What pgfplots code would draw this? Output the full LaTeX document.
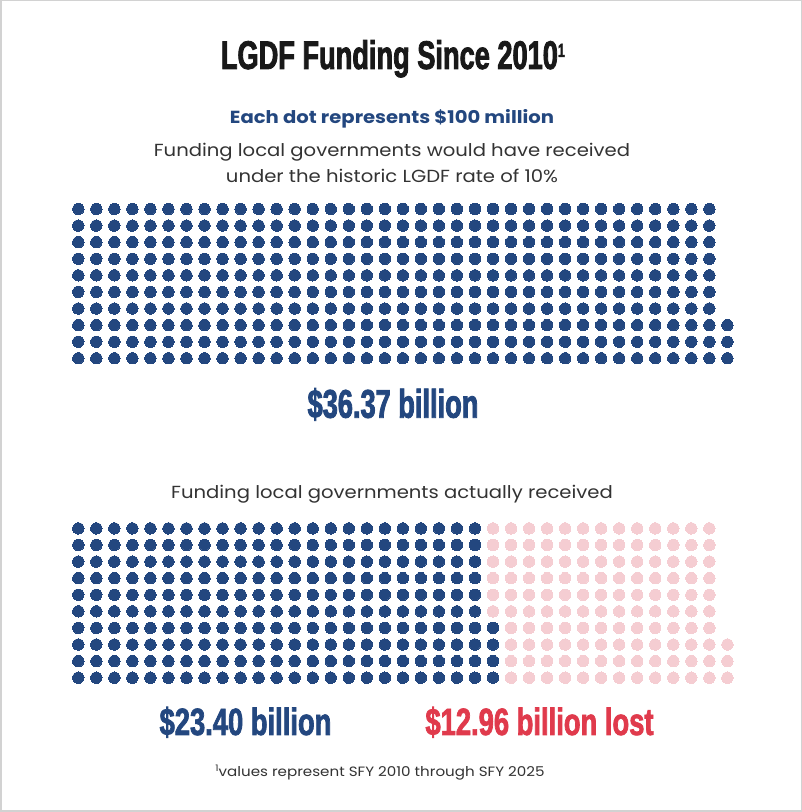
\documentclass[border=0pt]{standalone}
\usepackage{pgfplots}
\pgfplotsset{compat=1.18}
\usepackage{fontspec}
\setmainfont{Poppins}[FakeStretch=1.12]
\newfontfamily\heavy[FakeStretch=0.68,FakeBold=2]{Liberation Sans}
\newfontfamily\heavyb[FakeStretch=0.72,FakeBold=1.8]{Liberation Sans}
\definecolor{navy}{HTML}{23477F}
\definecolor{pinkdot}{HTML}{F5CDD2}
\definecolor{lostred}{HTML}{E03A4C}
\definecolor{bodygray}{HTML}{333333}
\definecolor{framegray}{HTML}{D2D2D2}
\pgfplotsset{dotgrid/.style={hide axis, scale only axis, clip=false,
  width=649.1pt, height=149.3pt, xmin=0, xmax=36, ymin=0, ymax=9, anchor=south west}}
\begin{document}
\begin{tikzpicture}
\draw[framegray, line width=1.5pt, fill=white] (0.75pt,0.75pt) rectangle (801.25pt,811.25pt);
\path[use as bounding box] (0pt,0pt) rectangle (802pt,812pt);
% Title
\node[anchor=base, inner sep=0pt, text=black!90] at (393pt,743pt)
  {\heavy\bfseries\fontsize{40}{40}\selectfont LGDF Funding Since 2010\raisebox{12pt}{\fontsize{19}{19}\selectfont 1}};
\node[anchor=base, inner sep=0pt, text=navy] at (392pt,688.7pt)
  {\bfseries\fontsize{17.5}{17.5}\selectfont Each dot represents \$100 million};
\node[anchor=base, inner sep=0pt, text=bodygray] at (392pt,655.3pt)
  {\fontsize{17.5}{17.5}\selectfont Funding local governments would have received};
\node[anchor=base, inner sep=0pt, text=bodygray] at (392pt,629.3pt)
  {\fontsize{17.5}{17.5}\selectfont under the historic LGDF rate of 10\%};
\node[anchor=base, inner sep=0pt, text=navy] at (393pt,394.3pt)
  {\heavy\bfseries\fontsize{40}{40}\selectfont \$36.37 billion};
\node[anchor=base, inner sep=0pt, text=bodygray] at (392pt,313pt)
  {\fontsize{17.5}{17.5}\selectfont Funding local governments actually received};
\node[anchor=base, inner sep=0pt, text=navy] at (245.5pt,77pt)
  {\heavyb\bfseries\fontsize{38}{38}\selectfont \$23.40 billion};
\node[anchor=base, inner sep=0pt, text=lostred] at (539.5pt,77pt)
  {\heavyb\bfseries\fontsize{38}{38}\selectfont \$12.96 billion lost};
\node[anchor=base, inner sep=0pt, text=bodygray] at (380pt,35pt)
  {\fontsize{13.5}{13.5}\selectfont \raisebox{5pt}{\fontsize{9}{9}\selectfont 1}values represent SFY 2010 through SFY 2025};
% Top grid: would have received (363 dots)
\begin{axis}[dotgrid, at={(78.3pt,453.7pt)}]
\addplot[only marks, mark=*, mark size=5.7pt, mark options={fill=navy, draw=navy, line width=0pt}] coordinates {
(0,0)(0,1)(0,2)(0,3)(0,4)(0,5)(0,6)(0,7)(0,8)(0,9)
(1,0)(1,1)(1,2)(1,3)(1,4)(1,5)(1,6)(1,7)(1,8)(1,9)
(2,0)(2,1)(2,2)(2,3)(2,4)(2,5)(2,6)(2,7)(2,8)(2,9)
(3,0)(3,1)(3,2)(3,3)(3,4)(3,5)(3,6)(3,7)(3,8)(3,9)
(4,0)(4,1)(4,2)(4,3)(4,4)(4,5)(4,6)(4,7)(4,8)(4,9)
(5,0)(5,1)(5,2)(5,3)(5,4)(5,5)(5,6)(5,7)(5,8)(5,9)
(6,0)(6,1)(6,2)(6,3)(6,4)(6,5)(6,6)(6,7)(6,8)(6,9)
(7,0)(7,1)(7,2)(7,3)(7,4)(7,5)(7,6)(7,7)(7,8)(7,9)
(8,0)(8,1)(8,2)(8,3)(8,4)(8,5)(8,6)(8,7)(8,8)(8,9)
(9,0)(9,1)(9,2)(9,3)(9,4)(9,5)(9,6)(9,7)(9,8)(9,9)
(10,0)(10,1)(10,2)(10,3)(10,4)(10,5)(10,6)(10,7)(10,8)(10,9)
(11,0)(11,1)(11,2)(11,3)(11,4)(11,5)(11,6)(11,7)(11,8)(11,9)
(12,0)(12,1)(12,2)(12,3)(12,4)(12,5)(12,6)(12,7)(12,8)(12,9)
(13,0)(13,1)(13,2)(13,3)(13,4)(13,5)(13,6)(13,7)(13,8)(13,9)
(14,0)(14,1)(14,2)(14,3)(14,4)(14,5)(14,6)(14,7)(14,8)(14,9)
(15,0)(15,1)(15,2)(15,3)(15,4)(15,5)(15,6)(15,7)(15,8)(15,9)
(16,0)(16,1)(16,2)(16,3)(16,4)(16,5)(16,6)(16,7)(16,8)(16,9)
(17,0)(17,1)(17,2)(17,3)(17,4)(17,5)(17,6)(17,7)(17,8)(17,9)
(18,0)(18,1)(18,2)(18,3)(18,4)(18,5)(18,6)(18,7)(18,8)(18,9)
(19,0)(19,1)(19,2)(19,3)(19,4)(19,5)(19,6)(19,7)(19,8)(19,9)
(20,0)(20,1)(20,2)(20,3)(20,4)(20,5)(20,6)(20,7)(20,8)(20,9)
(21,0)(21,1)(21,2)(21,3)(21,4)(21,5)(21,6)(21,7)(21,8)(21,9)
(22,0)(22,1)(22,2)(22,3)(22,4)(22,5)(22,6)(22,7)(22,8)(22,9)
(23,0)(23,1)(23,2)(23,3)(23,4)(23,5)(23,6)(23,7)(23,8)(23,9)
(24,0)(24,1)(24,2)(24,3)(24,4)(24,5)(24,6)(24,7)(24,8)(24,9)
(25,0)(25,1)(25,2)(25,3)(25,4)(25,5)(25,6)(25,7)(25,8)(25,9)
(26,0)(26,1)(26,2)(26,3)(26,4)(26,5)(26,6)(26,7)(26,8)(26,9)
(27,0)(27,1)(27,2)(27,3)(27,4)(27,5)(27,6)(27,7)(27,8)(27,9)
(28,0)(28,1)(28,2)(28,3)(28,4)(28,5)(28,6)(28,7)(28,8)(28,9)
(29,0)(29,1)(29,2)(29,3)(29,4)(29,5)(29,6)(29,7)(29,8)(29,9)
(30,0)(30,1)(30,2)(30,3)(30,4)(30,5)(30,6)(30,7)(30,8)(30,9)
(31,0)(31,1)(31,2)(31,3)(31,4)(31,5)(31,6)(31,7)(31,8)(31,9)
(32,0)(32,1)(32,2)(32,3)(32,4)(32,5)(32,6)(32,7)(32,8)(32,9)
(33,0)(33,1)(33,2)(33,3)(33,4)(33,5)(33,6)(33,7)(33,8)(33,9)
(34,0)(34,1)(34,2)(34,3)(34,4)(34,5)(34,6)(34,7)(34,8)(34,9)
(35,0)(35,1)(35,2)(35,3)(35,4)(35,5)(35,6)(35,7)(35,8)(35,9)
(36,0)(36,1)(36,2)
};
\end{axis}
% Bottom grid: actually received (234 navy) and lost (129 pink)
\begin{axis}[dotgrid, at={(78.3pt,134.3pt)}]
\addplot[only marks, mark=*, mark size=5.7pt, mark options={fill=navy, draw=navy, line width=0pt}] coordinates {
(0,0)(0,1)(0,2)(0,3)(0,4)(0,5)(0,6)(0,7)(0,8)(0,9)
(1,0)(1,1)(1,2)(1,3)(1,4)(1,5)(1,6)(1,7)(1,8)(1,9)
(2,0)(2,1)(2,2)(2,3)(2,4)(2,5)(2,6)(2,7)(2,8)(2,9)
(3,0)(3,1)(3,2)(3,3)(3,4)(3,5)(3,6)(3,7)(3,8)(3,9)
(4,0)(4,1)(4,2)(4,3)(4,4)(4,5)(4,6)(4,7)(4,8)(4,9)
(5,0)(5,1)(5,2)(5,3)(5,4)(5,5)(5,6)(5,7)(5,8)(5,9)
(6,0)(6,1)(6,2)(6,3)(6,4)(6,5)(6,6)(6,7)(6,8)(6,9)
(7,0)(7,1)(7,2)(7,3)(7,4)(7,5)(7,6)(7,7)(7,8)(7,9)
(8,0)(8,1)(8,2)(8,3)(8,4)(8,5)(8,6)(8,7)(8,8)(8,9)
(9,0)(9,1)(9,2)(9,3)(9,4)(9,5)(9,6)(9,7)(9,8)(9,9)
(10,0)(10,1)(10,2)(10,3)(10,4)(10,5)(10,6)(10,7)(10,8)(10,9)
(11,0)(11,1)(11,2)(11,3)(11,4)(11,5)(11,6)(11,7)(11,8)(11,9)
(12,0)(12,1)(12,2)(12,3)(12,4)(12,5)(12,6)(12,7)(12,8)(12,9)
(13,0)(13,1)(13,2)(13,3)(13,4)(13,5)(13,6)(13,7)(13,8)(13,9)
(14,0)(14,1)(14,2)(14,3)(14,4)(14,5)(14,6)(14,7)(14,8)(14,9)
(15,0)(15,1)(15,2)(15,3)(15,4)(15,5)(15,6)(15,7)(15,8)(15,9)
(16,0)(16,1)(16,2)(16,3)(16,4)(16,5)(16,6)(16,7)(16,8)(16,9)
(17,0)(17,1)(17,2)(17,3)(17,4)(17,5)(17,6)(17,7)(17,8)(17,9)
(18,0)(18,1)(18,2)(18,3)(18,4)(18,5)(18,6)(18,7)(18,8)(18,9)
(19,0)(19,1)(19,2)(19,3)(19,4)(19,5)(19,6)(19,7)(19,8)(19,9)
(20,0)(20,1)(20,2)(20,3)(20,4)(20,5)(20,6)(20,7)(20,8)(20,9)
(21,0)(21,1)(21,2)(21,3)(21,4)(21,5)(21,6)(21,7)(21,8)(21,9)
(22,0)(22,1)(22,2)(22,3)(22,4)(22,5)(22,6)(22,7)(22,8)(22,9)
(23,0)(23,1)(23,2)(23,3)
};
\addplot[only marks, mark=*, mark size=5.7pt, mark options={fill=pinkdot, draw=pinkdot, line width=0pt}] coordinates {
(23,4)(23,5)(23,6)(23,7)(23,8)(23,9)
(24,0)(24,1)(24,2)(24,3)(24,4)(24,5)(24,6)(24,7)(24,8)(24,9)
(25,0)(25,1)(25,2)(25,3)(25,4)(25,5)(25,6)(25,7)(25,8)(25,9)
(26,0)(26,1)(26,2)(26,3)(26,4)(26,5)(26,6)(26,7)(26,8)(26,9)
(27,0)(27,1)(27,2)(27,3)(27,4)(27,5)(27,6)(27,7)(27,8)(27,9)
(28,0)(28,1)(28,2)(28,3)(28,4)(28,5)(28,6)(28,7)(28,8)(28,9)
(29,0)(29,1)(29,2)(29,3)(29,4)(29,5)(29,6)(29,7)(29,8)(29,9)
(30,0)(30,1)(30,2)(30,3)(30,4)(30,5)(30,6)(30,7)(30,8)(30,9)
(31,0)(31,1)(31,2)(31,3)(31,4)(31,5)(31,6)(31,7)(31,8)(31,9)
(32,0)(32,1)(32,2)(32,3)(32,4)(32,5)(32,6)(32,7)(32,8)(32,9)
(33,0)(33,1)(33,2)(33,3)(33,4)(33,5)(33,6)(33,7)(33,8)(33,9)
(34,0)(34,1)(34,2)(34,3)(34,4)(34,5)(34,6)(34,7)(34,8)(34,9)
(35,0)(35,1)(35,2)(35,3)(35,4)(35,5)(35,6)(35,7)(35,8)(35,9)
(36,0)(36,1)(36,2)
};
\end{axis}
\end{tikzpicture}
\end{document}
